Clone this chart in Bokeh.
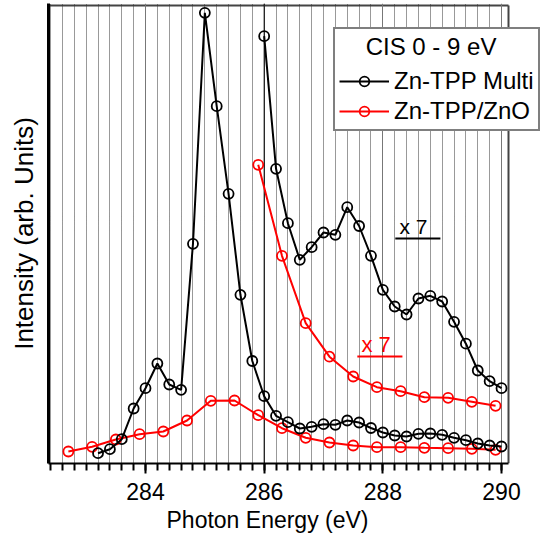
from bokeh.plotting import figure
from bokeh.models import (Range1d, SingleIntervalTicker, FixedTicker, Legend,
                          LegendItem, Label, Span, Title)
from bokeh.embed import file_html
from bokeh.resources import INLINE

# ---- data ----
energy_multi = [283.2, 283.4, 283.6, 283.8, 284.0, 284.2, 284.4, 284.6, 284.8,
                285.0, 285.2, 285.4, 285.6, 285.8, 286.0, 286.2, 286.4, 286.6,
                286.8, 287.0, 287.2, 287.4, 287.6, 287.8, 288.0, 288.2, 288.4,
                288.6, 288.8, 289.0, 289.2, 289.4, 289.6, 289.8, 290.0]
intensity_multi = [0.103, 0.143, 0.243, 0.55, 0.753, 1.00, 0.79, 0.737, 2.197,
                   4.507, 3.573, 2.697, 1.687, 1.025, 0.673, 0.477, 0.413, 0.35,
                   0.367, 0.393, 0.387, 0.43, 0.41, 0.355, 0.31, 0.28, 0.27,
                   0.297, 0.30, 0.287, 0.257, 0.233, 0.20, 0.18, 0.17]

energy_multi_x7 = [286.0, 286.2, 286.4, 286.6, 286.8, 287.0, 287.2, 287.4, 287.6,
                   287.8, 288.0, 288.2, 288.4, 288.6, 288.8, 289.0, 289.2, 289.4,
                   289.6, 289.8, 290.0]
intensity_multi_x7 = [4.273, 2.947, 2.403, 2.037, 2.163, 2.31, 2.287, 2.563, 2.375,
                      2.077, 1.737, 1.57, 1.49, 1.65, 1.677, 1.62, 1.417, 1.198,
                      0.93, 0.823, 0.753]

energy_zno = [282.7, 283.1, 283.5, 283.9, 284.3, 284.7, 285.1, 285.5, 285.9,
              286.3, 286.7, 287.1, 287.5, 287.9, 288.3, 288.7, 289.1, 289.5, 289.9]
intensity_zno = [0.12, 0.167, 0.24, 0.293, 0.32, 0.43, 0.627, 0.63, 0.483,
                 0.353, 0.257, 0.21, 0.18, 0.163, 0.163, 0.157, 0.153, 0.147, 0.137]

energy_zno_x7 = [285.9, 286.3, 286.7, 287.1, 287.5, 287.9, 288.3, 288.7, 289.1,
                 289.5, 289.9]
intensity_zno_x7 = [2.987, 2.077, 1.403, 1.068, 0.87, 0.763, 0.723, 0.663, 0.657,
                    0.617, 0.577]

series_names = ["Zn-TPP Multi", "Zn-TPP/ZnO"]
legend_title = "CIS 0 - 9 eV"
scale_label = "x 7"

FONT = "Liberation Sans"

# visible plot box (data units); the canvas frame extends to the right edge
X_LO, X_HI = 282.365, 290.118
Y_LO, Y_HI = 0.0, 4.58

p = figure(width=541, height=541, output_backend="svg", toolbar_location=None,
           x_range=Range1d(X_LO, 290.674), y_range=Range1d(Y_LO, 4.60),
           min_border_left=48, min_border_right=0, min_border_top=3,
           min_border_bottom=78)
p.background_fill_color = "white"
p.border_fill_color = "white"
p.outline_line_color = None

ticker = SingleIntervalTicker(interval=2, num_minor_ticks=10)
p.xaxis.ticker = ticker
p.xgrid.ticker = ticker
p.xaxis.bounds = (X_LO, X_HI)
p.xgrid.bounds = (X_LO, X_HI)
p.xaxis.axis_line_width = 2
p.xaxis.axis_line_color = "black"
p.xaxis.major_tick_in = 0
p.xaxis.minor_tick_in = 0
p.xaxis.major_tick_out = 10
p.xaxis.minor_tick_out = 7
p.xaxis.major_tick_line_width = 2
p.xaxis.minor_tick_line_width = 2
p.xaxis.major_label_standoff = 9
p.xaxis.major_label_text_font = FONT
p.xaxis.major_label_text_font_size = "23px"
p.xaxis.major_label_text_color = "black"

p.add_layout(Title(text="Photon Energy (eV)", align="left", offset=118,
                   text_font=FONT, text_font_size="23px",
                   text_font_style="normal", text_color="black",
                   standoff=4), "below")

p.yaxis.ticker = FixedTicker(ticks=[])
p.yaxis.axis_line_width = 3
p.yaxis.axis_line_color = "black"
p.yaxis.major_tick_line_color = None
p.yaxis.minor_tick_line_color = None
p.yaxis.axis_label = "Intensity (arb. Units)"
p.yaxis.axis_label_text_font = FONT
p.yaxis.axis_label_text_font_size = "26px"
p.yaxis.axis_label_text_font_style = "normal"
p.yaxis.axis_label_text_color = "black"
p.yaxis.axis_label_standoff = 10

p.ygrid.grid_line_color = None
p.xgrid.grid_line_color = "#777777"
p.xgrid.grid_line_width = 1
p.xgrid.minor_grid_line_color = "#333333"
p.xgrid.minor_grid_line_width = 1
p.xgrid.minor_grid_line_dash = "1 1"

# plot box outline: top and right edges
p.segment(x0=[X_LO, X_HI], y0=[Y_HI, Y_LO], x1=[X_HI, X_HI], y1=[Y_HI, Y_HI],
          line_color="#444444", line_width=2, level="underlay")
p.add_layout(Span(location=286, dimension="height", line_color="black",
                  line_width=1, level="underlay"))

# ZnO series (red)
lz = p.line(energy_zno, intensity_zno, line_color="red", line_width=2)
sz = p.scatter(energy_zno, intensity_zno, marker="circle", size=10,
               line_color="red", fill_color=None, line_width=1.8)
p.line(energy_zno_x7, intensity_zno_x7, line_color="red", line_width=2)
p.scatter(energy_zno_x7, intensity_zno_x7, marker="circle", size=10,
          line_color="red", fill_color=None, line_width=1.8)

# Multilayer series (black)
lm = p.line(energy_multi, intensity_multi, line_color="black", line_width=2)
sm = p.scatter(energy_multi, intensity_multi, marker="circle", size=10,
               line_color="black", fill_color=None, line_width=1.8)
p.line(energy_multi_x7, intensity_multi_x7, line_color="black", line_width=2)
p.scatter(energy_multi_x7, intensity_multi_x7, marker="circle", size=10,
          line_color="black", fill_color=None, line_width=1.8)

# "x 7" annotations with underline
p.add_layout(Label(x=288.28, y=2.37, text=scale_label, text_font=FONT,
                   text_font_size="21px", text_color="black",
                   text_baseline="alphabetic"))
p.segment(x0=[288.21], y0=[2.25], x1=[288.97], y1=[2.25], line_color="black",
          line_width=2)
p.add_layout(Label(x=287.64, y=1.19, text=scale_label, text_font=FONT,
                   text_font_size="22px", text_color="red",
                   text_baseline="alphabetic"))
p.segment(x0=[287.57], y0=[1.07], x1=[288.33], y1=[1.07], line_color="red",
          line_width=2)

legend = Legend(
    items=[LegendItem(label=series_names[0], renderers=[lm, sm]),
           LegendItem(label=series_names[1], renderers=[lz, sz])],
    location=(285, 332),
    title="\u00a0\u00a0\u00a0\u00a0" + legend_title,
    title_text_font=FONT, title_text_font_size="24px",
    title_text_font_style="normal", title_text_color="black",
    title_standoff=6,
    label_text_font=FONT, label_text_font_size="24px", label_text_color="black",
    glyph_width=50, glyph_height=24, label_height=24, label_standoff=5,
    padding=4, spacing=2, margin=0,
    border_line_color="black", border_line_width=2,
    background_fill_color="white", background_fill_alpha=1.0,
)
p.add_layout(legend)

open("out.html", "w").write(file_html(p, INLINE))
